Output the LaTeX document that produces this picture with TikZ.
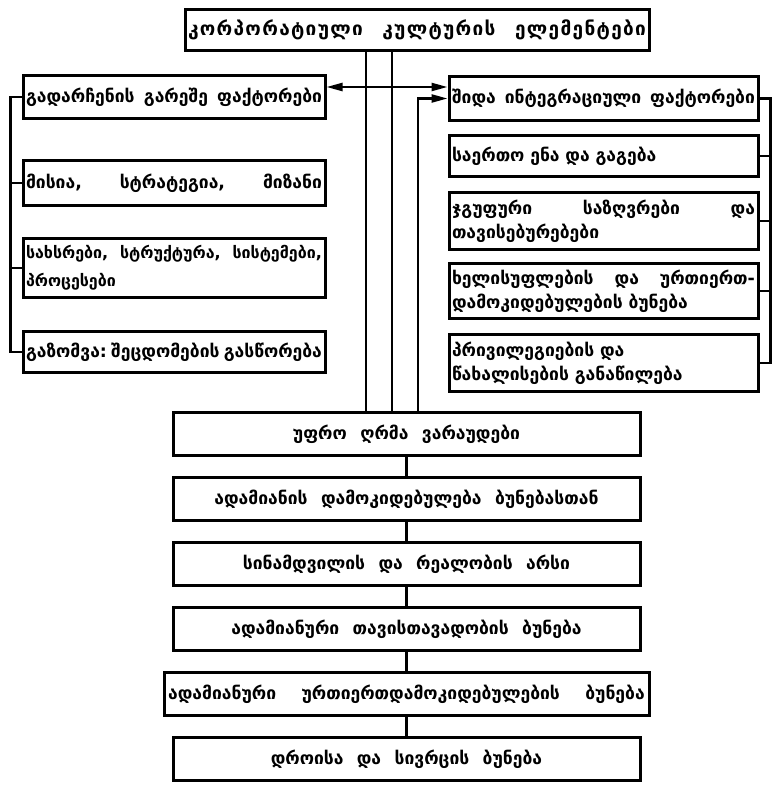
\documentclass[tikz,border=0pt]{standalone}
\usepackage{fontspec}
\newfontfamily\geo[WordSpace=2.2]{DejaVu Sans Bold}
\usetikzlibrary{arrows.meta, positioning}

\begin{document}
\begin{tikzpicture}[x=1pt, y=-1pt, font=\geo\fontsize{17.5}{24}\selectfont,
	>={Triangle[length=16pt, width=8pt]},
	box/.style={draw, line width=3pt, rectangle, inner xsep=3pt, inner ysep=2pt},
	leftbox/.style={box, text width=296pt, align=left},
	rightbox/.style={box, text width=303pt, align=left},
	chainbox/.style={box, minimum width=467pt, minimum height=43pt, align=center},
	link/.style={line width=2.4pt}]
	
	\useasboundingbox (0,0) rectangle (773,789);
	
	% Nodes
	\node[box, text width=458pt, minimum height=41pt,
		font=\geo\fontsize{19}{24}\selectfont\addfontfeature{LetterSpace=7}] (elements) at (417,30)
		{კორპორატიული\hfill კულტურის\hfill ელემენტები};
	
	% left column
	\node[leftbox, minimum height=43pt] (survival) at (174,97) {გადარჩენის\hfill გარეშე\hfill ფაქტორები};
	\node[leftbox, minimum height=45pt, below=39pt of survival] (mission) {მისია,\hfill სტრატეგია,\hfill მიზანი};
	\node[leftbox, minimum height=59pt, below=30pt of mission, font=\geo\fontsize{16}{28}\selectfont] (means)
		{სახსრები,\hfill სტრუქტურა,\hfill სისტემები,\\პროცესები};
	\node[leftbox, minimum height=41pt, below=31pt of means] (measure) {გაზომვა:\hfill შეცდომების\hfill გასწორება};
	
	% right column
	\node[rightbox, minimum height=44pt] (internal) at (603.5,98.5) {შიდა\hfill ინტეგრაციული\hfill ფაქტორები};
	\node[rightbox, minimum height=41pt, below=12pt of internal] (language) {საერთო ენა და გაგება};
	\node[rightbox, minimum height=57pt, below=13pt of language] (group) {ჯგუფური\hfill საზღვრები\hfill და\\თავისებურებები};
	\node[rightbox, minimum height=55pt, below=11pt of group] (power) {ხელისუფლების\hfill და\hfill ურთიერთ-\\დამოკიდებულების ბუნება};
	\node[rightbox, minimum height=57pt, below=13pt of power] (reward) {პრივილეგიების და\\წახალისების განაწილება};
	
	% deeper chain
	\node[chainbox] (deep) at (406.5,434) {უფრო ღრმა ვარაუდები};
	\node[chainbox, below=19pt of deep] (nature) {ადამიანის დამოკიდებულება ბუნებასთან};
	\node[chainbox, below=19pt of nature] (reality) {სინამდვილის და რეალობის არსი};
	\node[chainbox, below=19pt of reality] (activity) {ადამიანური თავისთავადობის ბუნება};
	\node[chainbox, minimum width=485pt, below=19pt of activity] (relations) {ადამიანური\hspace{12pt} ურთიერთდამოკიდებულების\hspace{12pt} ბუნება};
	\node[chainbox, below=19pt of relations] (time) {დროისა და სივრცის ბუნება};
	
	% Lines
	\draw[link] ([xshift=-40.5pt]deep.north) -- ([xshift=-40.5pt]deep.north |- elements.south);
	\draw[link] ([xshift=-14.5pt]deep.north) -- ([xshift=-14.5pt]deep.north |- elements.south);
	\draw[link, ->] ([xshift=11.5pt]deep.north) |- (internal.west);
	\draw[link, <->] ([yshift=10pt]survival.east) -- ([yshift=10pt]survival.east -| internal.west);
	
	\draw[link] (survival.west) -- ++(-11pt,0pt) |- (measure.west);
	\foreach \n in {mission, means}
		\draw[link] (\n.west) -- ++(-11pt,0pt);
	
	\draw[link] (internal.east) -- ++(11pt,0pt) |- (reward.east);
	\foreach \n in {language, group, power}
		\draw[link] (\n.east) -- ++(11pt,0pt);
	
	\draw[link] (deep) -- (nature);
	\draw[link] (nature) -- (reality);
	\draw[link] (reality) -- (activity);
	\draw[link] (activity) -- (relations);
	\draw[link] (relations) -- (time);
	
\end{tikzpicture}
\end{document}
